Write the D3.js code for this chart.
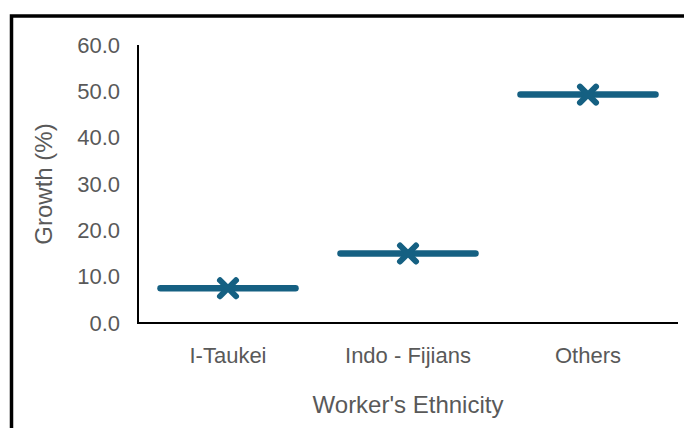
<!DOCTYPE html>
<html>
<head>
<meta charset="utf-8">
<script src="https://cdn.jsdelivr.net/npm/d3@7"></script>
<style>
  body { margin: 0; background: #fff; }
  text { font-family: "Liberation Sans", Arial, sans-serif; fill: #595959; }
</style>
</head>
<body>
<div id="viz"></div>
<script>
var categories = ["I-Taukei", "Indo - Fijians", "Others"];
var growth = [7.5, 15.0, 49.3];
var yTicks = [0, 10, 20, 30, 40, 50, 60];

var width = 684, height = 428;
var margin = {top: 45, right: 6, bottom: 105, left: 138};
var color = "#156082";

var svg = d3.select("#viz")
            .append("svg")
            .attr("width", width)
            .attr("height", height);

// outer frame (cut off at right and bottom)
svg.append("rect")
   .attr("x", 11.5)
   .attr("y", 16)
   .attr("width", width + 20)
   .attr("height", height + 20)
   .style("fill", "none")
   .style("stroke", "#000")
   .style("stroke-width", 3.5);

var x = d3.scaleBand()
          .domain(categories)
          .range([margin.left, width - margin.right]);

var y = d3.scaleLinear()
          .domain([0, 60])
          .range([height - margin.bottom, margin.top]);

// y tick labels
svg.append("g")
   .selectAll("text")
   .data(yTicks)
   .enter().append("text")
   .attr("x", 120)
   .attr("y", function(d) { return y(d); })
   .attr("dy", "0.35em")
   .attr("text-anchor", "end")
   .style("font-size", "22px")
   .text(function(d) { return d3.format(".1f")(d); });

// category labels
svg.append("g")
   .selectAll("text")
   .data(categories)
   .enter().append("text")
   .attr("x", function(d) { return x(d) + x.bandwidth() / 2; })
   .attr("y", 363)
   .attr("text-anchor", "middle")
   .style("font-size", "22px")
   .text(function(d) { return d; });

// axis lines
svg.append("line")
   .attr("x1", margin.left).attr("x2", margin.left)
   .attr("y1", y(60)).attr("y2", y(0))
   .style("stroke", "#000").style("stroke-width", 2);

svg.append("line")
   .attr("x1", margin.left - 1).attr("x2", width - margin.right)
   .attr("y1", y(0)).attr("y2", y(0))
   .style("stroke", "#000").style("stroke-width", 2);

// axis titles
svg.append("text")
   .attr("x", (margin.left + width - margin.right) / 2)
   .attr("y", 413)
   .attr("text-anchor", "middle")
   .style("font-size", "24px")
   .text("Worker's Ethnicity");

svg.append("text")
   .attr("transform", "translate(52," + (y(0) + y(60)) / 2 + ") rotate(-90)")
   .attr("text-anchor", "middle")
   .style("font-size", "24px")
   .text("Growth (%)");

// horizontal bars
var half = x.bandwidth() * 0.375;
var marks = svg.append("g").selectAll("g")
   .data(growth)
   .enter().append("g")
   .attr("transform", function(d, i) {
     return "translate(" + (x(categories[i]) + x.bandwidth() / 2) + "," + y(d) + ")";
   });

marks.append("line")
   .attr("x1", -half).attr("x2", half)
   .style("stroke", color)
   .style("stroke-width", 6.5)
   .style("stroke-linecap", "round");

marks.append("path")
   .attr("d", "M-8,-8L8,8M-8,8L8,-8")
   .style("stroke", color)
   .style("stroke-width", 6)
   .style("stroke-linecap", "round")
   .style("fill", "none");
</script>
</body>
</html>
